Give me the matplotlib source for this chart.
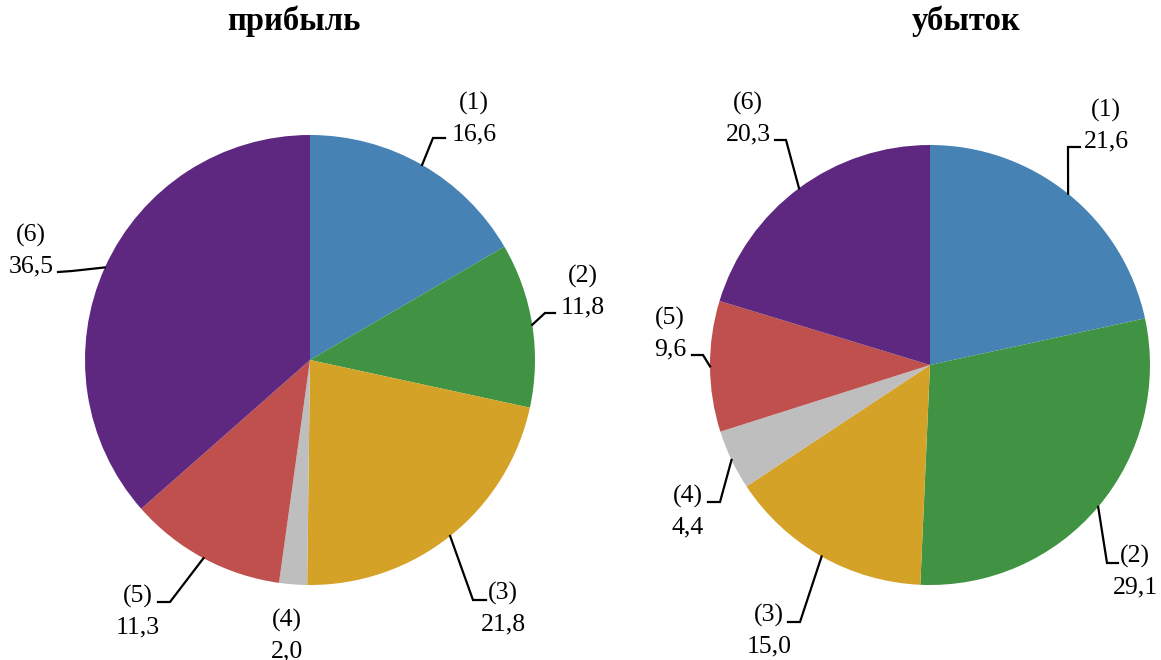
import numpy as np
import matplotlib
matplotlib.use("Agg")
import matplotlib.pyplot as plt

# ---- data ----
categories = ["(1)", "(2)", "(3)", "(4)", "(5)", "(6)"]
profit_values = [16.6, 11.8, 21.8, 2.0, 11.3, 36.5]
loss_values = [21.6, 29.1, 15.0, 4.4, 9.6, 20.3]
titles = ["прибыль", "убыток"]
colors = ["#4682B4", "#409343", "#D4A227", "#BEBEBE", "#C0504D", "#5E2880"]

W, H = 1161, 660
fig = plt.figure(figsize=(W / 100, H / 100), dpi=100)
ax = fig.add_axes([0, 0, 1, 1])

FONT = "Liberation Serif"
FS = 18.5

def fmt(v):
    return f"{v:.1f}".replace(".", ",")

# layout (pixel coords, y downward): value-label x, value baseline y, leader (elbow, end) or None
left_layout = [
    (474, 140, ((433, 138), (445, 138))),
    (583, 313, ((545, 313), (555, 313))),
    (503, 630, ((473, 600), (486, 600))),
    (287, 657, None),
    (138, 633, ((170, 602), (158, 602))),
    (31, 272, ((72, 271), (58, 272))),
]
right_layout = [
    (1106, 147, ((1068, 147), (1080, 147))),
    (1135, 593, ((1107, 563), (1118, 563))),
    (769, 652, ((800, 622), (788, 622))),
    (688, 533, ((720, 502), (708, 502))),
    (670, 355, ((703, 355), (692, 355))),
    (748, 140, ((786, 140), (775, 140))),
]

pies = [
    (profit_values, (310, H - 360), 225, left_layout, titles[0], 294),
    (loss_values, (930, H - 365), 220, right_layout, titles[1], 966),
]

for values, center, radius, layout, title, tx in pies:
    wedges, _ = ax.pie(values, center=center, radius=radius, startangle=90,
                       counterclock=False, colors=colors,
                       wedgeprops=dict(linewidth=0))
    for w, v, cat, (lx, ly, leader) in zip(wedges, values, categories, layout):
        mid = np.deg2rad((w.theta1 + w.theta2) / 2)
        ex = center[0] + radius * np.cos(mid)
        ey = center[1] + radius * np.sin(mid)
        if leader is not None:
            (bx, by), (hx, hy) = leader
            ax.plot([ex, bx, hx], [ey, H - by, H - hy], color="black", lw=1.6,
                    solid_joinstyle="miter")
        ax.text(lx, H - ly, fmt(v), ha="center", va="baseline",
                fontsize=FS, family=FONT, color="black")
        ax.text(lx, H - ly + 30, cat, ha="center", va="baseline",
                fontsize=FS, family=FONT, color="black")
    ax.text(tx, H - 30, title, ha="center", va="baseline", fontsize=23.5,
            fontweight="bold", family=FONT, color="black")

ax.set_xlim(0, W)
ax.set_ylim(0, H)
ax.set_aspect("equal")
ax.axis("off")

fig.savefig("out.png", dpi=100)
